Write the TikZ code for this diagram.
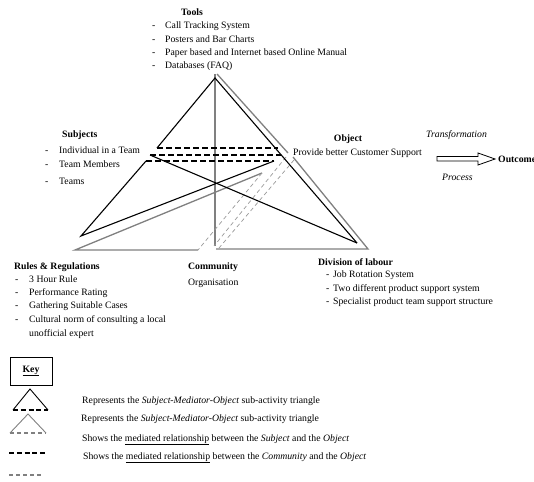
\documentclass[tikz,border=0pt]{standalone}
\usepackage{fontspec}
\setmainfont{Liberation Serif}

\begin{document}
\begin{tikzpicture}[x=1pt,y=-1pt]
            \tikzset{
                txt/.style={font=\fontsize{9.75}{11}\selectfont, inner sep=0pt, anchor=base west},
                head/.style={txt, font=\fontsize{9.75}{11}\selectfont\bfseries},
                blk/.style={line width=1.1pt},
                blkdash/.style={line width=1.6pt, dash pattern=on 6pt off 3pt},
                gry/.style={gray, line width=1.3pt},
                grydash/.style={gray!80, line width=0.7pt, dash pattern=on 4pt off 3pt},}
            \useasboundingbox (0,0) rectangle (534,481);
            % subject - tools - object
            \coordinate (T) at (215,78);
            \coordinate (S1) at (157,148);
            \coordinate (O1) at (278,148);
            \coordinate (S2) at (150,155);
            \coordinate (O2) at (281,155);
            \coordinate (S3) at (146,161);
            \coordinate (O3) at (274,161);
            \coordinate (R) at (81,236);
            \coordinate (D) at (357,243);
            % community - tools - object
            \coordinate (Tg) at (215,74);
            \coordinate (Vb) at (215,246);
            \coordinate (Tg2) at (217,74);
            \coordinate (Og) at (288,153);
            \coordinate (Og2) at (293,157);
            \coordinate (Dg) at (368,249);
            \coordinate (Cb) at (216,249);
            \coordinate (Rg) at (75,250);
            \coordinate (Cg) at (198,250);
            \coordinate (Og3) at (262,173);
            \coordinate (Og4) at (286,157);
            \coordinate (Vb2) at (214,246);
            \coordinate (Og5) at (294,160);
            \coordinate (Cb2) at (219,248);

            \draw [gry] (Tg) -- (Vb);
            \draw [gry] (Tg2) -- (Og);
            \draw [gry] (Og2) -- (Dg) -- (Cb);
            \draw [gry] (Cg) -- (Rg) -- (Og3);
            \draw [grydash] (Og3) -- (Cg);
            \draw [grydash] (Og4) -- (Vb2);
            \draw [grydash] (Og5) -- (Cb2);

            \draw [blk] (S1) -- (T) -- (D);
            \draw [blk] (S2) -- (D);
            \draw [blk] (O3) -- (R) -- (S3);
            \draw [blkdash] (S1) -- (O1);
            \draw [blkdash] (S2) -- (O2);
            \draw [blkdash] (S3) -- (O3);

            % labels
            \node [head, anchor=base] (tools) at (192,16) {Tools};
            \foreach \lbl [count=\i from 0] in {Call Tracking System, Posters and Bar Charts, {Paper based and Internet based Online Manual}, {Databases (FAQ)}}
                \node [txt] (tool\i) at (152,{29+13.3*\i}) {\makebox[13pt][l]{-}\lbl};

            \node [head] (subjects) at (62,138) {Subjects};
            \foreach \y/\lbl [count=\i] in {153/Individual in a Team, 167/Team Members, 184/Teams}
                \node [txt] (subj\i) at (45,\y) {\makebox[14pt][l]{-}\lbl};

            \node [head] (rules) at (14,269) {Rules \& Regulations};
            \foreach \y/\lbl [count=\i] in {282/3 Hour Rule, 295.5/Performance Rating, 308.5/Gathering Suitable Cases, 322/Cultural norm of consulting a local}
                \node [txt] (rule\i) at (15,\y) {\makebox[14pt][l]{-}\lbl};
            \node [txt] (rule5) at (29,336) {unofficial expert};

            \node [head] (community) at (188,269) {Community};
            \node [txt] (organisation) at (188,285) {Organisation};

            \node [head, anchor=base] (object) at (348,142) {Object};
            \node [txt] (support) at (293,155) {Provide better Customer Support};

            \node [head] (division) at (318,265) {Division of labour};
            \foreach \y/\lbl [count=\i] in {277/Job Rotation System, 291/Two different product support system, 304/Specialist product team support structure}
                \node [txt] (div\i) at (326,\y) {\makebox[7pt][l]{-}\lbl};

            \node [txt, font=\fontsize{9.75}{11}\selectfont\itshape] (transformation) at (426,138) {Transformation};
            \node [txt, font=\fontsize{9.75}{11}\selectfont\itshape] (process) at (442,180) {Process};
            \node [head] (outcome) at (498,162.5) {Outcome};
            \draw [line width=0.8pt] (437,156.5) -- (478,156.5) -- (478,153) -- (495,159) -- (478,165)
                -- (478,161) -- (437,161) -- cycle;

            % key
            \node [draw, line width=0.8pt, minimum width=42pt, minimum height=28pt,
                   font=\fontsize{9.75}{11}\selectfont\bfseries] (key) at (31,371) {\underline{Key}};
            \draw [line width=0.9pt] (13,410) -- (30,389) -- (48,410);
            \draw [line width=1.5pt, dash pattern=on 5pt off 2.8pt] (13,410) -- (48,410);
            \draw [gray, line width=0.9pt] (10,433) -- (28,414) -- (46,433);
            \draw [gray, line width=1.3pt, dash pattern=on 4pt off 3pt] (10,433) -- (46,433);
            \draw [line width=1.5pt, dash pattern=on 5pt off 2.8pt] (9,453) -- (45,453);
            \draw [gray, line width=1.1pt, dash pattern=on 4pt off 3pt] (9,475) -- (43,475);
            \node [txt] (key1) at (82,403) {Represents the \textit{Subject-Mediator-Object} sub-activity triangle};
            \node [txt] (key2) at (81,421) {Represents the \textit{Subject-Mediator-Object} sub-activity triangle};
            \node [txt] (key3) at (82,441) {Shows the \underline{mediated relationship} between the \textit{Subject} and the \textit{Object}};
            \node [txt] (key4) at (83,459) {Shows the \underline{mediated relationship} between the \textit{Community} and the \textit{Object}};
        \end{tikzpicture}
\end{document}
